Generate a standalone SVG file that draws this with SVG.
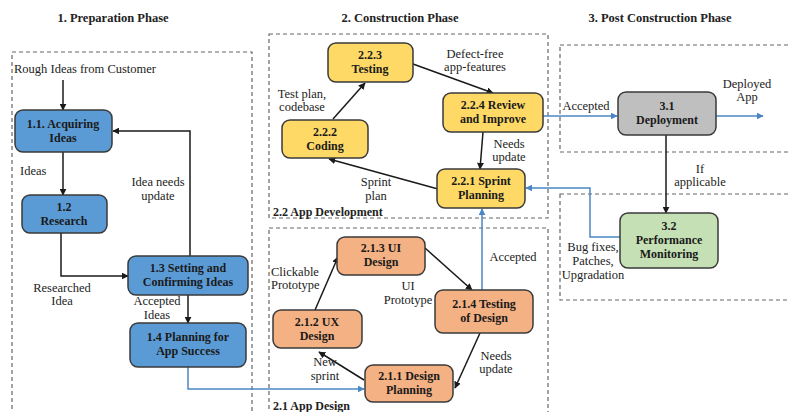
<svg xmlns="http://www.w3.org/2000/svg" width="788" height="412" viewBox="0 0 788 412" font-family="'Liberation Serif', 'Times New Roman', 'DejaVu Serif', serif">
<defs>
<marker id="ah" viewBox="0 0 10 10" refX="9" refY="5" markerWidth="7" markerHeight="7" orient="auto" markerUnits="userSpaceOnUse"><path d="M0,0 L10,5 L0,10 z" fill="#1a1a1a"/></marker>
<marker id="ahb" viewBox="0 0 10 10" refX="9" refY="5" markerWidth="7" markerHeight="7" orient="auto" markerUnits="userSpaceOnUse"><path d="M0,0 L10,5 L0,10 z" fill="#4a86c5"/></marker>
</defs>
<style>
text{font-family:'Liberation Serif','Times New Roman','DejaVu Serif',serif;font-size:12.5px;fill:#222;}
.t{font-weight:bold;text-anchor:middle;}
.n{font-weight:bold;text-anchor:middle;fill:#1a1a1a;font-size:12px;}
.l{text-anchor:middle;}
.s{font-weight:bold;font-size:12px;}
.box{fill:none;stroke:#666;stroke-width:1.2;stroke-dasharray:4 3;}
.node rect{stroke:#3a3a3a;stroke-width:1.5;}
.blue rect{fill:#5b9bd5;}
.yel rect{fill:#ffd966;}
.org rect{fill:#f4b183;}
.gry rect{fill:#bfbfbf;}
.grn rect{fill:#c5e0b4;}
.c{fill:none;stroke:#1a1a1a;stroke-width:1.5;marker-end:url(#ah);}
.cb{fill:none;stroke:#4a86c5;stroke-width:1.5;marker-end:url(#ahb);}
</style>
<rect width="788" height="412" fill="#fff"/>

<g id="phases">
<text class="t" x="113" y="22">1. Preparation Phase</text>
<text class="t" x="400" y="22">2. Construction Phase</text>
<text class="t" x="660" y="22">3. Post Construction Phase</text>
<rect class="box" x="12" y="52" width="240" height="362"/>
<rect class="box" x="269" y="34" width="279" height="184"/>
<text class="s" x="273" y="216">2.2 App Development</text>
<rect class="box" x="269" y="228" width="279" height="186"/>
<text class="s" x="273" y="410">2.1 App Design</text>
<rect class="box" x="560" y="45" width="232" height="107"/>
<rect class="box" x="560" y="194" width="232" height="106"/>
</g>

<g id="connectors">
<path class="c" d="M63,80 V110"/>
<path class="c" d="M63,152 V195"/>
<path class="c" d="M61,233 V276 H128"/>
<path class="c" d="M190,256 V131 H113"/>
<path class="c" d="M188,295 V323"/>
<path class="cb" d="M188,367 V389 H364"/>
<path class="c" d="M413,64 L493,93"/>
<path class="c" d="M483,132 L480,169"/>
<path class="c" d="M438,189 L329,159"/>
<path class="c" d="M333,119 L365,83"/>
<path class="c" d="M425,248 L472,290"/>
<path class="c" d="M480,333 L455,388"/>
<path class="c" d="M364,380 L319,352"/>
<path class="c" d="M315,310 L338,257"/>
<path class="cb" d="M482,290 V209"/>
<path class="cb" d="M543,116 H617"/>
<path class="cb" d="M716,116 H763"/>
<path class="c" d="M666,135 V213"/>
<path class="cb" d="M620,237 H590 V188 H526"/>
<text x="14" y="73">Rough Ideas from Customer</text>
<text x="20" y="175">Ideas</text>
<text class="l" x="158" y="186">Idea needs</text>
<text class="l" x="158" y="200">update</text>
<text class="l" x="62" y="292">Researched</text>
<text class="l" x="62" y="305">Idea</text>
<text class="l" x="157" y="305">Accepted</text>
<text class="l" x="157" y="319">Ideas</text>
<text class="l" x="475" y="58">Defect-free</text>
<text class="l" x="475" y="71">app-features</text>
<text class="l" x="302" y="98">Test plan,</text>
<text class="l" x="302" y="111">codebase</text>
<text class="l" x="509" y="148">Needs</text>
<text class="l" x="509" y="161">update</text>
<text class="l" x="376" y="186">Sprint</text>
<text class="l" x="376" y="200">plan</text>
<text x="271" y="276">Clickable</text>
<text x="271" y="289">Prototype</text>
<text class="l" x="408" y="290">UI</text>
<text class="l" x="408" y="304">Prototype</text>
<text class="l" x="513" y="261">Accepted</text>
<text class="l" x="496" y="360">Needs</text>
<text class="l" x="496" y="373">update</text>
<text class="l" x="325" y="366">New</text>
<text class="l" x="325" y="380">sprint</text>
<text class="l" x="586" y="110">Accepted</text>
<text class="l" x="747" y="88">Deployed</text>
<text class="l" x="747" y="101">App</text>
<text class="l" x="700" y="173">If</text>
<text class="l" x="700" y="186">applicable</text>
<text class="l" x="593" y="251">Bug fixes,</text>
<text class="l" x="593" y="265">Patches,</text>
<text class="l" x="593" y="279">Upgradation</text>
</g>

<g id="n11" class="node blue"><rect x="15" y="110" width="97" height="42" rx="8"/><text class="n" x="63" y="128">1.1. Acquiring</text><text class="n" x="63" y="142">Ideas</text></g>
<g id="n12" class="node blue"><rect x="22" y="195" width="85" height="38" rx="8"/><text class="n" x="64" y="211">1.2</text><text class="n" x="64" y="225">Research</text></g>
<g id="n13" class="node blue"><rect x="128" y="256" width="120" height="39" rx="8"/><text class="n" x="188" y="272">1.3 Setting and</text><text class="n" x="188" y="286">Confirming Ideas</text></g>
<g id="n14" class="node blue"><rect x="130" y="323" width="116" height="44" rx="8"/><text class="n" x="188" y="341">1.4 Planning for</text><text class="n" x="188" y="355">App Success</text></g>

<g id="n223" class="node yel"><rect x="328" y="43" width="85" height="39" rx="8"/><text class="n" x="370" y="59">2.2.3</text><text class="n" x="370" y="73">Testing</text></g>
<g id="n224" class="node yel"><rect x="443" y="93" width="100" height="39" rx="8"/><text class="n" x="493" y="109">2.2.4 Review</text><text class="n" x="493" y="123">and Improve</text></g>
<g id="n222" class="node yel"><rect x="282" y="120" width="86" height="38" rx="8"/><text class="n" x="325" y="136">2.2.2</text><text class="n" x="325" y="150">Coding</text></g>
<g id="n221" class="node yel"><rect x="437" y="169" width="88" height="39" rx="8"/><text class="n" x="481" y="185">2.2.1 Sprint</text><text class="n" x="481" y="199">Planning</text></g>

<g id="n213" class="node org"><rect x="337" y="237" width="88" height="38" rx="8"/><text class="n" x="381" y="252">2.1.3 UI</text><text class="n" x="381" y="266">Design</text></g>
<g id="n214" class="node org"><rect x="435" y="290" width="98" height="43" rx="8"/><text class="n" x="484" y="308">2.1.4 Testing</text><text class="n" x="484" y="322">of Design</text></g>
<g id="n212" class="node org"><rect x="273" y="310" width="89" height="38" rx="8"/><text class="n" x="317" y="326">2.1.2 UX</text><text class="n" x="317" y="340">Design</text></g>
<g id="n211" class="node org"><rect x="365" y="365" width="88" height="37" rx="8"/><text class="n" x="409" y="380">2.1.1 Design</text><text class="n" x="409" y="394">Planning</text></g>

<g id="n31" class="node gry"><rect x="618" y="92" width="98" height="43" rx="8"/><text class="n" x="667" y="110">3.1</text><text class="n" x="667" y="124">Deployment</text></g>
<g id="n32" class="node grn"><rect x="620" y="213" width="98" height="55" rx="8"/><text class="n" x="669" y="230">3.2</text><text class="n" x="669" y="244">Performance</text><text class="n" x="669" y="258">Monitoring</text></g>
</svg>
